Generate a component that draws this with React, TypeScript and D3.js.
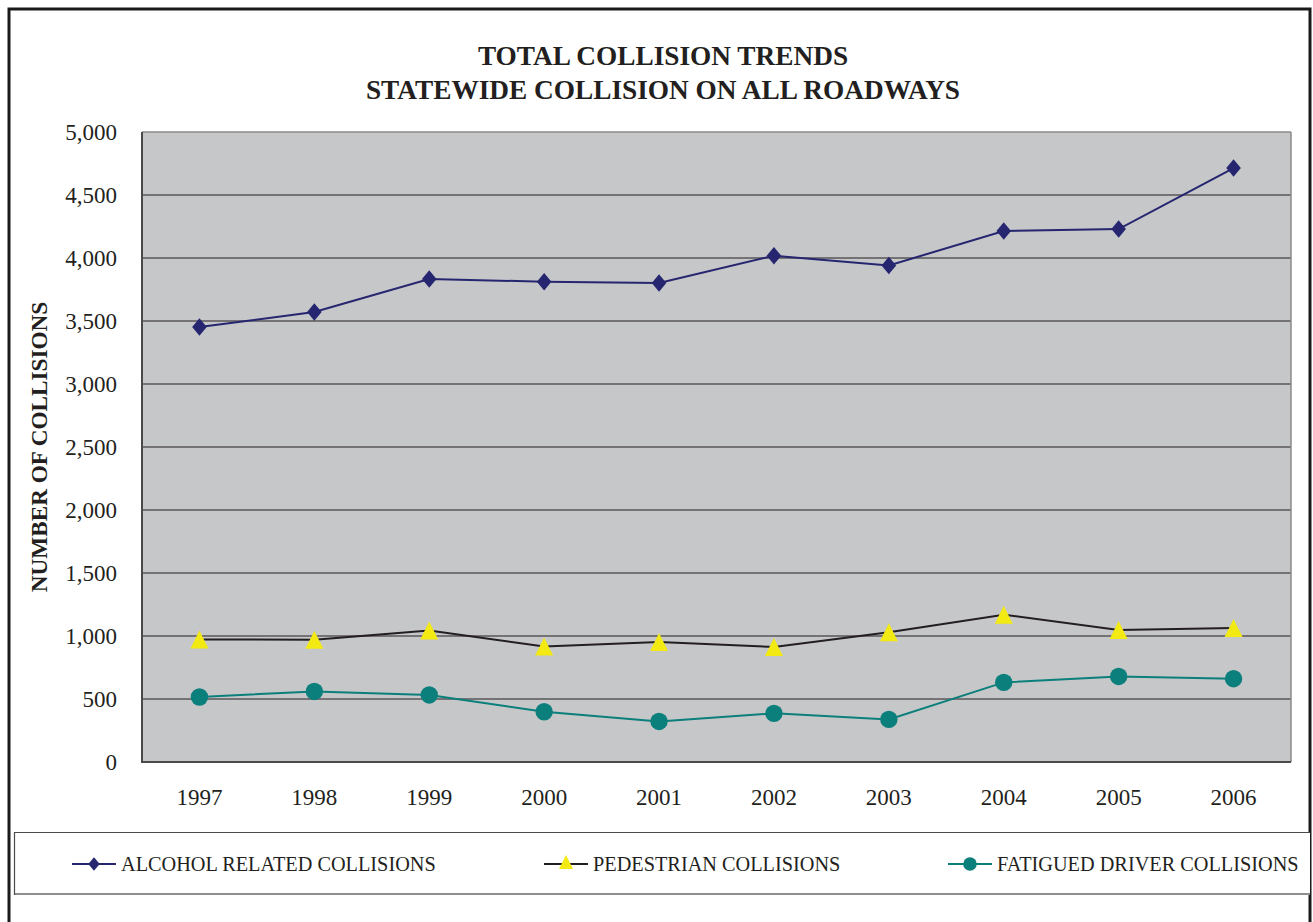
import * as d3 from "d3";

const years = ["1997", "1998", "1999", "2000", "2001", "2002", "2003", "2004", "2005", "2006"];
const alcoholCollisions = [3452, 3571, 3833, 3812, 3802, 4018, 3941, 4214, 4230, 4714];
const pedestrianCollisions = [973, 971, 1044, 917, 952, 913, 1029, 1169, 1048, 1063];
const fatiguedCollisions = [516, 560, 532, 399, 322, 386, 338, 632, 679, 661];
const yTicks = [0, 500, 1000, 1500, 2000, 2500, 3000, 3500, 4000, 4500, 5000];
const titleLines = ["TOTAL COLLISION TRENDS", "STATEWIDE COLLISION ON ALL ROADWAYS"];

const W = 1313;
const H = 922;
const plot = { left: 142, right: 1291, top: 132, bottom: 762 };
const serif = "'Liberation Serif', 'Times New Roman', serif";

const NAVY = "#25266f";
const YELLOW = "#f2ea12";
const TEAL = "#0b7f7c";
const LINE_BLACK = "#231f20";

type Marker = "diamond" | "triangle" | "circle";

// marker outlines, sized like the original (about 17px across)
function markerPath(kind: Marker) {
    if (kind === "diamond") return "M0,-8.7L7.3,0L0,8.7L-7.3,0Z";
    if (kind === "triangle") return "M0,-9L9,9L-9,9Z";
    return d3.arc()({ innerRadius: 0, outerRadius: 8.7, startAngle: 0, endAngle: 2 * Math.PI } as any) ?? "";
}

export default function App() {
    const x = d3.scaleBand<string>().domain(years).range([plot.left, plot.right]);
    const y = d3.scaleLinear().domain([0, 5000]).range([plot.bottom, plot.top]);
    const cx = (yr: string) => (x(yr) as number) + x.bandwidth() / 2;

    const line = d3.line<number>()
        .x((_, i) => cx(years[i]))
        .y(d => y(d));

    const fmt = d3.format(",");

    const series = [
        { name: "ALCOHOL RELATED COLLISIONS", values: alcoholCollisions, stroke: NAVY, fill: NAVY, marker: "diamond" as Marker, legendX: 72 },
        { name: "PEDESTRIAN COLLISIONS", values: pedestrianCollisions, stroke: LINE_BLACK, fill: YELLOW, marker: "triangle" as Marker, legendX: 544 },
        { name: "FATIGUED DRIVER COLLISIONS", values: fatiguedCollisions, stroke: TEAL, fill: TEAL, marker: "circle" as Marker, legendX: 948 },
    ];

    return (
        <svg width={W} height={H} style={{ position: "absolute", left: 0, top: 0, background: "#fff" }}>
            {/* outer frame */}
            <rect x={9} y={9} width={1301} height={925} fill="#fff" stroke="#1a1a1a" strokeWidth={3} />

            {/* title */}
            {titleLines.map((t, i) => (
                <text key={t} x={663} y={65 + i * 33.5} textAnchor="middle" fontFamily={serif}
                    fontWeight="bold" fontSize={27.3} fill="#231f20">{t}</text>
            ))}

            {/* plot area */}
            <rect x={plot.left} y={plot.top} width={plot.right - plot.left} height={plot.bottom - plot.top}
                fill="#c6c7c9" />
            {yTicks.filter(t => t > 0 && t < 5000).map(t => (
                <line key={t} x1={plot.left} x2={plot.right} y1={y(t)} y2={y(t)} stroke="#231f20" strokeWidth={1.2} />
            ))}
            <line x1={plot.left} x2={plot.right} y1={plot.top} y2={plot.top} stroke="#8a8a8a" strokeWidth={1.5} />
            <line x1={plot.right} x2={plot.right} y1={plot.top} y2={plot.bottom} stroke="#8a8a8a" strokeWidth={1.5} />
            <line x1={plot.left} x2={plot.left} y1={plot.top} y2={plot.bottom + 1} stroke="#4a4a4a" strokeWidth={2} />
            <line x1={plot.left} x2={plot.right} y1={plot.bottom} y2={plot.bottom} stroke="#4a4a4a" strokeWidth={2} />

            {/* y tick labels */}
            {yTicks.map(t => (
                <text key={t} x={117} y={y(t) + 8} textAnchor="end" fontFamily={serif} fontSize={23} fill="#231f20">
                    {fmt(t)}
                </text>
            ))}

            {/* x tick labels */}
            {years.map(yr => (
                <text key={yr} x={cx(yr)} y={805} textAnchor="middle" fontFamily={serif} fontSize={23} fill="#231f20">
                    {yr}
                </text>
            ))}

            {/* y axis title */}
            <text transform={`translate(47,447) rotate(-90)`} textAnchor="middle" fontFamily={serif}
                fontWeight="bold" fontSize={23.2} fill="#231f20">NUMBER OF COLLISIONS</text>

            {/* series */}
            {series.map(s => (
                <g key={s.name}>
                    <path d={line(s.values) ?? ""} fill="none" stroke={s.stroke} strokeWidth={2} />
                    {s.values.map((v, i) => (
                        <path key={i} d={markerPath(s.marker)} fill={s.fill}
                            transform={`translate(${cx(years[i])},${y(v)})`} />
                    ))}
                </g>
            ))}

            {/* legend */}
            <rect x={14} y={832} width={1296} height={62} fill="#fff" stroke="none" />
            <line x1={14} x2={1310} y1={832.5} y2={832.5} stroke="#4a4a4a" strokeWidth={1.2} />
            <line x1={14} x2={1310} y1={894} y2={894} stroke="#8f8f8f" strokeWidth={2} />
            <line x1={14.5} x2={14.5} y1={832} y2={895} stroke="#4a4a4a" strokeWidth={1.2} />
            {series.map(s => (
                <g key={s.name} transform={`translate(${s.legendX},864)`}>
                    <line x1={0} x2={44} y1={0} y2={0} stroke={s.stroke} strokeWidth={2} />
                    <path d={markerPath(s.marker)} fill={s.fill} transform={`translate(22,${s.marker === "triangle" ? -2 : 0}) scale(0.78)`} />
                    <text x={49} y={7} fontFamily={serif} fontSize={20.3} fill="#231f20">{s.name}</text>
                </g>
            ))}
        </svg>
    );
}
